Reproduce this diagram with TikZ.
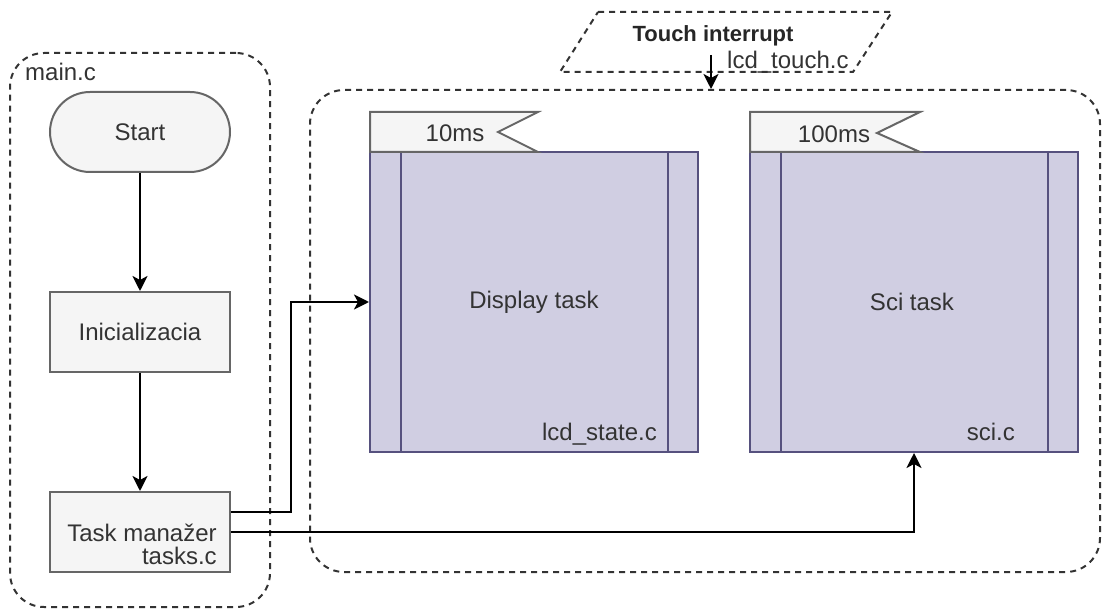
\documentclass[tikz,border=0pt]{standalone}
\usepackage{fontspec}
\setmainfont{Liberation Sans}
\usetikzlibrary{arrows.meta,calc}
\definecolor{txt}{HTML}{333333}
\definecolor{gfill}{HTML}{F5F5F5}
\definecolor{gline}{HTML}{666666}
\definecolor{pfill}{HTML}{D0CEE2}
\definecolor{pline}{HTML}{56517E}
\tikzset{
  fnt/.style={font=\fontsize{24}{22}\selectfont, text=txt},
  container/.style={draw=txt, line width=2pt, dash pattern=on 6pt off 5pt, rounded corners=34pt, inner sep=0pt},
  graybox/.style={draw=gline, fill=gfill, line width=2pt, minimum width=180pt, minimum height=80pt, inner sep=0pt, fnt},
  procbox/.style={draw=pline, fill=pfill, line width=2pt, minimum width=328pt, minimum height=300pt, inner sep=0pt, fnt},
  flagshape/.style={draw=gline, fill=gfill, line width=2pt},
  arr/.style={draw=black, line width=2.4pt, -{Stealth[length=15pt,width=15pt,inset=4pt]}},
  lbl/.style={fnt, inner sep=0pt},
}
\begin{document}
\begin{tikzpicture}[x=1pt,y=-1pt]
\useasboundingbox (0,0) rectangle (1106,609);
% containers
\node[container, minimum width=260pt, minimum height=554pt] (mc) at (140,330) {};
\node[container, minimum width=790pt, minimum height=482pt] (tc) at (705,331) {};
\node[lbl, anchor=base west] (mclbl) at (25,81) {main.c};
% touch interrupt
\draw[draw=txt, line width=2pt, dash pattern=on 6pt off 5pt] (598,12) -- (892,12) -- (853,72) -- (560,72) -- cycle;
\node[lbl, font=\fontsize{22}{24}\selectfont\bfseries, text=black!85] (ti) at (713,36) {Touch interrupt};
\node[lbl, anchor=base west] (ltc) at (727,69) {lcd\_touch.c};
\coordinate (ta) at (711,55);
% left flow
\node[graybox, rounded corners=40pt] (start) at (140,132) {Start};
\node[graybox] (init) at (140,332) {Inicializacia};
\node[graybox] (tm) at (140,532) {};
\node[lbl, align=right, font=\fontsize{24}{23}\selectfont] (tmtxt) at (142,544) {Task manažer\\tasks.c};
% process boxes
\node[procbox] (dt) at (534,302) {};
\draw[draw=pline, line width=2pt] ([xshift=32pt]dt.north west) -- ([xshift=32pt]dt.south west);
\draw[draw=pline, line width=2pt] ([xshift=-31pt]dt.north east) -- ([xshift=-31pt]dt.south east);
\node[lbl] (dtt) at (534,302) {Display task};
\node[lbl, anchor=base east] (dtf) at (657,441) {lcd\_state.c};
\node[procbox] (st) at (914,302) {};
\draw[draw=pline, line width=2pt] ([xshift=32pt]st.north west) -- ([xshift=32pt]st.south west);
\draw[draw=pline, line width=2pt] ([xshift=-31pt]st.north east) -- ([xshift=-31pt]st.south east);
\node[lbl] (stt) at (912,302) {Sci task};
\node[lbl, anchor=base east] (stf) at (1015,441) {sci.c};
% flags
\draw[flagshape] (370,112) -- (538,112) -- (498,132) -- (538,152) -- (370,152) -- cycle;
\node[lbl] (f1) at (455,133) {10ms};
\draw[flagshape] (750,112) -- (920,112) -- (877,133) -- (920,152) -- (750,152) -- cycle;
\node[lbl] (f2) at (834,134) {100ms};
% connectors
\draw[arr] (start) -- (init);
\draw[arr] (init) -- (tm);
\draw[arr] ([yshift=20pt]tm.east) -- ++(60,0) |- (dt.west);
\draw[arr] (tm.east) -| (st.south);
\draw[arr] (ta) -- (ta |- tc.north);
\end{tikzpicture}
\end{document}
